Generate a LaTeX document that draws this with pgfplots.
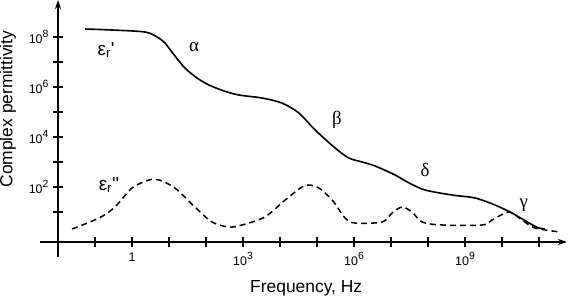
\documentclass[border=0pt]{standalone}
\usepackage{fontspec}
\setmainfont{Liberation Sans}
\newfontfamily\greekfont{Liberation Serif}
\newfontfamily\epsfont{Liberation Sans}
\usepackage{pgfplots}
\pgfplotsset{compat=1.18}
\usetikzlibrary{arrows.meta}
\newcommand\tl{\fontsize{12.5}{14}\selectfont}
\newcommand\expo[1]{{\tl 10\raisebox{0.45em}{\fontsize{10.5}{11}\selectfont #1}}}
\begin{document}
\begin{tikzpicture}
\path[use as bounding box] (0,0) rectangle (576bp,306bp);
\begin{axis}[
  at={(58bp,64bp)}, anchor=south west,
  scale only axis, width=481bp, height=230bp,
  xmin=-2, xmax=11, ymin=-0.2, ymax=9,
  clip=false,
  axis lines=left,
  x axis line style={-{Stealth[length=9bp,width=6bp]}, shorten <=-18bp, shorten >=-28bp, line width=1.3bp},
  y axis line style={-{Stealth[length=9bp,width=6bp]}, shorten <=-15bp, shorten >=-12bp, line width=1.3bp},
  tick align=center,
  major tick length=10bp,
  tick style={black, line width=1.1bp},
  xtick={-1,0,...,11},
  xticklabels={{},{\tl 1},{},{},\expo{3},{},{},\expo{6},{},{},\expo{9},{},{}},
  ytick={1,2,...,8},
  yticklabels={{},\expo{2},{},\expo{4},{},\expo{6},{},\expo{8}},
  every tick label/.append style={font=\tl},
  xticklabel style={yshift=-2bp},
  yticklabel style={xshift=-1bp},
  xlabel={Frequency, Hz},
  ylabel={Complex permittivity},
  label style={font=\fontsize{17.5}{20}\selectfont},
  xlabel style={at={(axis description cs:0.516,-0.2)}, anchor=center},
  ylabel style={at={(axis description cs:-0.104,0.578)}, anchor=center},
]
\addplot[black, line width=1.6bp, smooth, tension=0.5] coordinates {
(-1.27,8.32) (-0.54,8.28) (0.35,8.20) (0.68,8.00) (0.89,7.76) (1.14,7.28)
(1.43,6.76) (1.76,6.36) (2.08,6.08) (2.49,5.84) (2.89,5.68) (3.51,5.56)
(4.05,5.36) (4.51,4.96) (4.95,4.28) (5.49,3.56) (5.86,3.16) (6.22,3.00)
(6.57,2.84) (7.11,2.48) (7.49,2.16) (7.92,1.88) (8.65,1.68) (9.27,1.56)
(9.81,1.28) (10.27,0.96) (10.73,0.56) (11.00,0.36) (11.16,0.32)
};
\addplot[black, line width=1.5bp, dash pattern=on 6bp off 4bp, smooth, tension=0.5] coordinates {
(-1.62,0.32) (-0.89,0.76) (-0.46,1.20) (0.0,1.96) (0.46,2.28) (0.73,2.28)
(1.16,1.96) (1.70,1.20) (2.16,0.60) (2.62,0.40) (2.97,0.48) (3.59,0.80)
(4.14,1.48) (4.59,2.00) (4.78,2.08) (5.05,1.96) (5.41,1.48) (5.76,0.76)
(6.03,0.56) (6.76,0.60) (7.03,0.96) (7.30,1.20) (7.57,1.00) (7.84,0.60)
(8.38,0.48) (9.46,0.48) (9.73,0.68) (10.19,1.00) (10.54,0.68) (10.89,0.36)
(11.57,0.20)
};
\node[font=\greekfont\fontsize{19}{21}\selectfont] at (axis cs:1.68,7.6) {α};
\node[font=\greekfont\fontsize{19}{21}\selectfont] at (axis cs:5.54,4.68) {β};
\node[font=\greekfont\fontsize{19}{21}\selectfont] at (axis cs:7.92,2.68) {δ};
\node[font=\greekfont\fontsize{19}{21}\selectfont] at (axis cs:10.59,1.28) {γ};
\node[font=\epsfont\fontsize{19}{21}\selectfont] at (axis cs:-0.7,7.48) {ε\textsubscript{r}'};
\node[font=\epsfont\fontsize{19}{21}\selectfont] at (axis cs:-0.62,2.08) {ε\textsubscript{r}''};
\end{axis}
\end{tikzpicture}
\end{document}
